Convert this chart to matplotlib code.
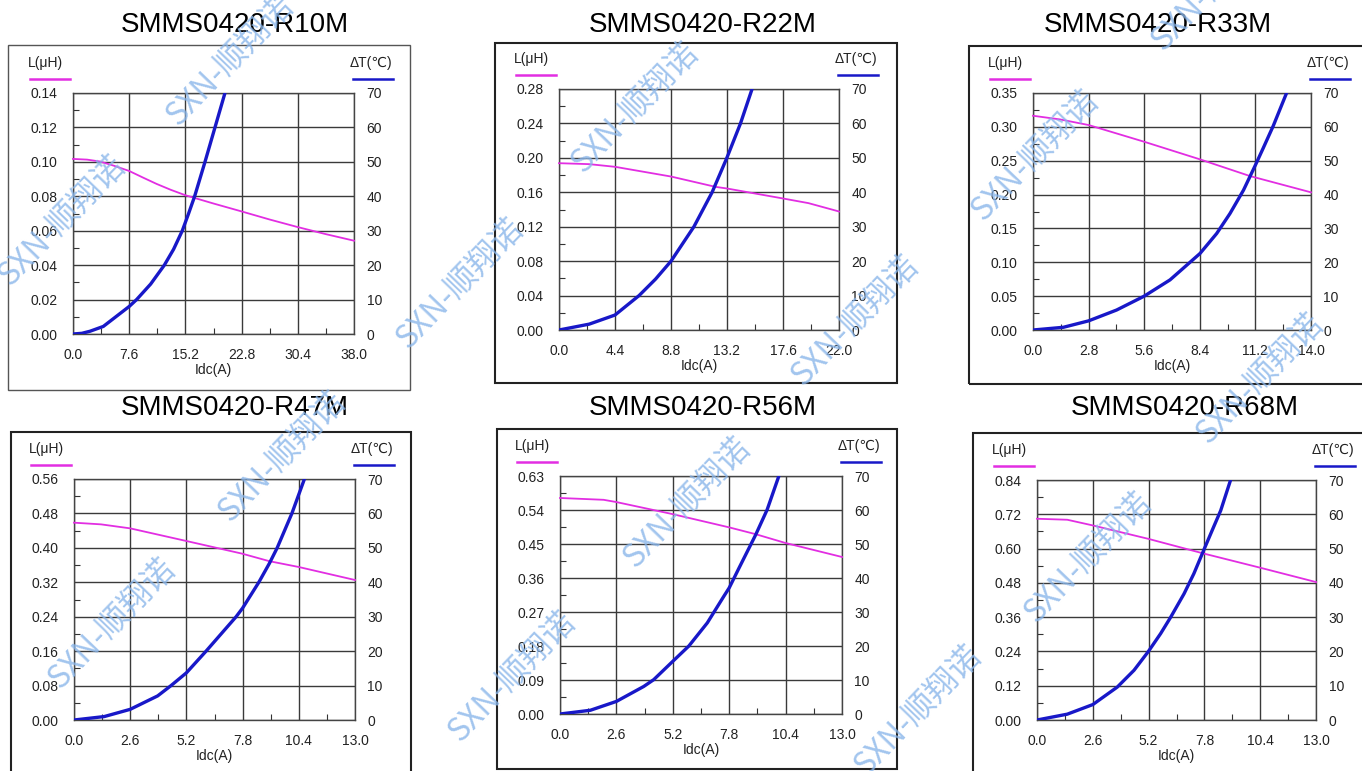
import numpy as np
import matplotlib.pyplot as plt
from matplotlib.patches import Rectangle
from matplotlib.lines import Line2D
from matplotlib.ticker import MultipleLocator

plt.rcParams['font.family'] = ['Liberation Sans', 'DejaVu Sans']

W, H = 1362, 771

# ---- data ----
titles = ["SMMS0420-R10M", "SMMS0420-R22M", "SMMS0420-R33M",
          "SMMS0420-R47M", "SMMS0420-R56M", "SMMS0420-R68M"]
x_max = [38.0, 22.0, 14.0, 13.0, 13.0, 13.0]
l_max = [0.14, 0.28, 0.35, 0.56, 0.63, 0.84]
t_max = 70

# inductance curves L(Idc)
l_x = [
    [0, 1.9, 3.65, 5.5, 7.6, 9.5, 11.3, 13.2, 15.2, 19.0, 22.8, 26.6, 30.4, 34.2, 38.0],
    [0, 2.37, 4.4, 8.8, 12.3, 13.2, 17.6, 19.6, 22.0],
    [0, 1.36, 2.8, 5.6, 8.41, 10.92, 14.0],
    [0, 1.25, 2.6, 5.2, 7.78, 9.04, 10.4, 13.0],
    [0, 2.01, 2.6, 5.2, 7.8, 9.02, 10.4, 13.0],
    [0, 1.41, 2.6, 5.19, 7.8, 10.4, 13.0],
]
l_y = [
    [0.1017, 0.1013, 0.1002, 0.0978, 0.0947, 0.0908, 0.0872, 0.0838, 0.0806,
     0.0758, 0.0712, 0.0665, 0.0621, 0.0580, 0.0542],
    [0.1938, 0.1927, 0.1896, 0.1783, 0.1663, 0.1644, 0.1528, 0.1474, 0.1377],
    [0.3164, 0.311, 0.3027, 0.278, 0.252, 0.2274, 0.2033],
    [0.4585, 0.4546, 0.4453, 0.4159, 0.3865, 0.369, 0.3555, 0.3253],
    [0.5718, 0.567, 0.561, 0.529, 0.494, 0.476, 0.4526, 0.4156],
    [0.7044, 0.7009, 0.681, 0.634, 0.582, 0.533, 0.4828],
]

# temperature rise curves dT(Idc)
t_x = [
    [0, 1.2, 2.3, 4.1, 7.6, 8.6, 10.5, 12.35, 13.6, 14.78, 15.6, 16.45, 17.85, 19.2, 20.55],
    [0, 2.37, 4.4, 6.29, 7.59, 8.8, 10.6, 12.03, 13.19, 14.26, 15.17],
    [0, 1.53, 2.8, 4.21, 5.6, 6.9, 8.41, 9.25, 9.92, 10.6, 11.2, 11.6, 12.1, 12.77],
    [0, 1.4, 2.6, 3.87, 4.49, 5.2, 6.11, 7.5, 7.8, 8.55, 9.04, 9.4, 10.08, 10.66],
    [0, 1.4, 2.6, 3.86, 4.32, 5.2, 5.94, 6.79, 7.55, 7.8, 8.25, 9.02, 9.55, 10.09],
    [0, 1.41, 2.6, 3.74, 4.52, 5.19, 5.76, 6.23, 6.85, 7.31, 7.8, 8.25, 8.56, 9.02],
]
t_y = [
    [0, 0.2, 0.8, 2.2, 8.0, 10, 14.5, 20, 24.6, 30, 34.8, 40, 50, 60, 70],
    [0, 1.7, 4.35, 10, 14.8, 20, 30, 40, 50, 60, 70],
    [0, 0.8, 2.7, 5.9, 10.0, 14.8, 22.6, 28.5, 34.4, 41.3, 48.7, 53.8, 60.3, 70],
    [0, 1.0, 3.1, 7.0, 10, 13.7, 20, 30, 32.5, 40, 45.5, 50, 60, 70],
    [0, 1.1, 3.7, 8.1, 10.1, 15.5, 20, 26.8, 34.6, 37.1, 42.9, 52.7, 60.1, 70],
    [0, 1.7, 4.5, 9.6, 14.5, 20, 25.2, 30, 36.8, 42.7, 50, 56.6, 61.1, 70],
]

watermark = "SXN-顺翔诺"

# ---- layout in pixels (left, top, right, bottom) ----
ax_px = [(73, 93, 354, 334), (559, 89, 839, 330), (1033, 93, 1311, 330),
         (74, 479, 355, 720), (560, 476, 842, 714), (1037, 480, 1316, 720)]
box_px = [(8, 45, 410, 390), (495, 43, 897, 383), (969, 46, 1370, 384),
          (11, 432, 411, 780), (497, 429, 897, 769), (973, 433, 1370, 780)]
title_px = [(235, 25), (703, 25), (1158, 25), (235, 408), (703, 408), (1185, 408)]
wm_px = [(62, 220), (230, 60), (460, 283), (635, 107), (855, 320), (1035, 155),
         (1215, -15), (1260, 378), (112, 623), (282, 456), (687, 502),
         (512, 676), (918, 710), (1088, 557)]


def fx(x):
    return x / W


def fy(y):
    return 1 - y / H


fig = plt.figure(figsize=(W / 100, H / 100), dpi=100)
fig.patch.set_facecolor('white')

grid_col = '#3a3a3a'
mag = '#e22ee2'
blue = '#1818c8'
for i in range(6):
    l, t, r, b = box_px[i]
    fig.add_artist(Rectangle((fx(l), fy(b)), fx(r - l), (b - t) / H,
                             transform=fig.transFigure, fill=False,
                             ec='#222' if i else '#555', lw=1.5 if i else 1.0))
    fig.text(fx(title_px[i][0]), fy(title_px[i][1]), titles[i],
             ha='center', va='center', fontsize=20)

    l, t, r, b = ax_px[i]
    ax = fig.add_axes([fx(l), fy(b), fx(r - l), (b - t) / H])
    ax.set_xlim(0, x_max[i])
    ax.set_ylim(0, l_max[i])
    xt = np.linspace(0, x_max[i], 6)
    yt = np.linspace(0, l_max[i], 8)
    ax.set_xticks(xt)
    ax.set_xticklabels([f"{v:.1f}" for v in xt])
    ax.set_yticks(yt)
    ax.set_yticklabels([f"{v:.2f}" for v in yt])
    ax.xaxis.set_minor_locator(MultipleLocator(x_max[i] / 10))
    ax.yaxis.set_minor_locator(MultipleLocator(l_max[i] / 14))
    ax.tick_params(which='major', length=0, labelsize=10, colors='#222')
    ax.tick_params(axis='y', which='major', pad=11)
    ax.tick_params(axis='x', which='major', pad=10)
    ax.tick_params(which='minor', direction='in', length=4, width=0.8, color='#333')
    ax.grid(True, which='major', color=grid_col, lw=1.0)
    for s in ax.spines.values():
        s.set_color('#444')
        s.set_linewidth(1.0)
    ax.set_xlabel('Idc(A)', fontsize=10, labelpad=1, color='#222')

    ax.plot(l_x[i], l_y[i], color=mag, lw=1.3, zorder=3, clip_on=False)

    ax2 = ax.twinx()
    ax2.set_ylim(0, t_max)
    ax2.set_yticks(np.arange(0, 71, 10))
    ax2.tick_params(which='major', length=0, labelsize=10, colors='#222', pad=9)
    for s in ax2.spines.values():
        s.set_visible(False)
    ax2.plot(t_x[i], t_y[i], color=blue, lw=2.4, zorder=4,
             solid_capstyle='round', solid_joinstyle='round')

    # axis name labels with colour keys
    fig.text(fx(l - 45), fy(t - 30), 'L(μH)', ha='left', va='center', fontsize=10, color='#222')
    fig.add_artist(Line2D([fx(l - 43), fx(l - 3)], [fy(t - 14), fy(t - 14)],
                          transform=fig.transFigure, color=mag, lw=1.8))
    fig.text(fx(r + 38), fy(t - 30), 'ΔT(℃)', ha='right', va='center', fontsize=10, color='#222')
    fig.add_artist(Line2D([fx(r - 1), fx(r + 39)], [fy(t - 14), fy(t - 14)],
                          transform=fig.transFigure, color=blue, lw=1.8))

for (x, y) in wm_px:
    fig.text(fx(x), fy(y), watermark, rotation=46, ha='center', va='center',
             rotation_mode='anchor', fontsize=23, color='#8ab6ea', alpha=0.8,
             family=['Noto Sans CJK SC', 'DejaVu Sans'], zorder=20)

fig.savefig('out.png', dpi=100)
